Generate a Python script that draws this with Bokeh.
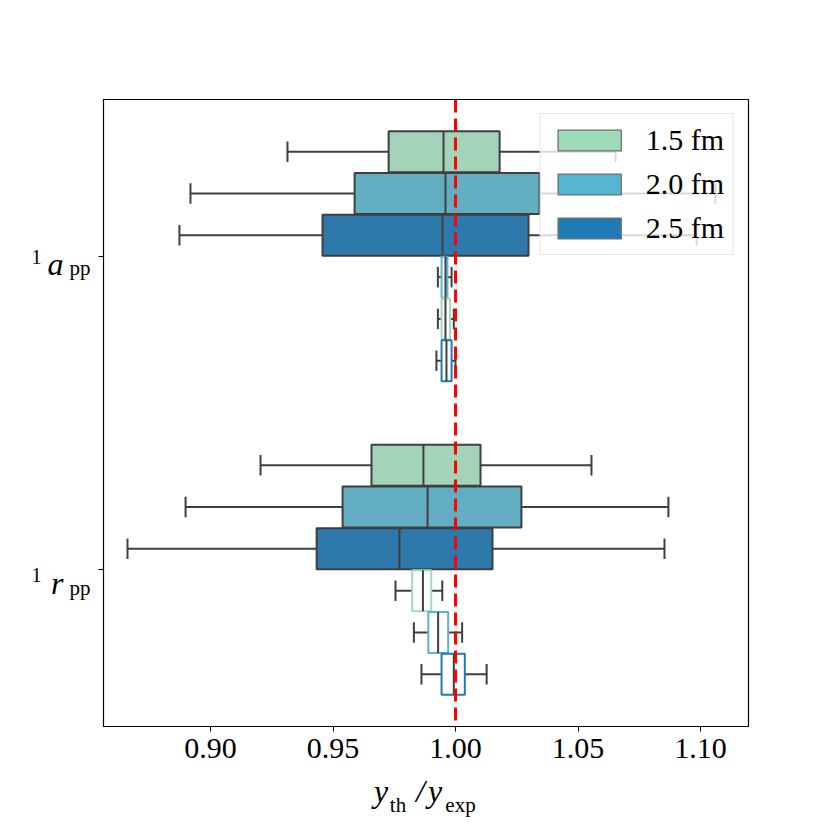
from bokeh.plotting import figure
from bokeh.models import (Range1d, Span, FixedTicker, NumeralTickFormatter,
                          ColumnDataSource, LinearAxis)
from bokeh.embed import file_html
from bokeh.resources import INLINE

categories = ["a_pp", "r_pp"]
cat_letters = ["a", "r"]
cat_sub = "pp"
cat_sup = "1"
hue_labels = ["1.5 fm", "2.0 fm", "2.5 fm"]
palette = ["#9fdab8", "#56b5d1", "#1f7bb6"]
fill_colors = ["#a3d3b9", "#64aec4", "#2e79ab"]
edge_color = "#3f3f3f"

# filled boxes (upper half of each category)
a_whislo = [[0.9314, 0.8918, 0.8873], [0.9204, 0.8898, 0.8661]]
a_q1 = [[0.9727, 0.9588, 0.9457], [0.9657, 0.9539, 0.9433]]
a_med = [[0.9951, 0.9959, 0.9947], [0.9869, 0.9886, 0.9771]]
a_q3 = [[1.0180, 1.0343, 1.0298], [1.0102, 1.0269, 1.0151]]
a_whishi = [[1.0653, 1.1061, 1.0984], [1.0555, 1.0869, 1.0853]]

# outline boxes (lower half of each category)
b_whislo = [[0.9928, 0.9928, 0.9922], [0.9755, 0.9830, 0.9861]]
b_q1 = [[0.9943, 0.9943, 0.9943], [0.9823, 0.9889, 0.9943]]
b_med = [[0.9959, 0.9959, 0.9963], [0.9867, 0.9929, 0.9993]]
b_q3 = [[0.9967, 0.9978, 0.9984], [0.9901, 0.9970, 1.0038]]
b_whishi = [[0.9984, 0.9993, 1.0000], [0.9946, 1.0027, 1.0127]]
b_color_idx = [[1, 0, 2], [0, 1, 2]]

x_ticks = [0.90, 0.95, 1.00, 1.05, 1.10]

FONT = "Liberation Serif"
X0, X1 = 0.8563, 1.1196
Y0, Y1 = 1.5, -0.5

p = figure(width=822, height=822, output_backend="svg", toolbar_location=None,
           x_range=Range1d(X0, X1), y_range=Range1d(Y0, Y1),
           min_border_left=103, min_border_right=74, min_border_top=99, min_border_bottom=96)
p.xgrid.visible = False
p.ygrid.visible = False
p.outline_line_color = "black"
p.outline_line_width = 1.2
p.background_fill_color = "white"
p.border_fill_color = "white"

slot = 0.8 / 6
box_h = slot * 0.98
cap_h = box_h / 2


def gather(whislo, q1, med, q3, whishi, slot_start, color_fn):
    d = dict(y=[], lo=[], q1=[], med=[], q3=[], hi=[], ylo=[], yhi=[], clo=[], chi=[], color=[], hue=[])
    for ci in range(len(categories)):
        for hi in range(len(hue_labels)):
            y = ci - 0.4 + (slot_start + hi + 0.5) * slot
            d["y"].append(y)
            d["lo"].append(whislo[ci][hi])
            d["q1"].append(q1[ci][hi])
            d["med"].append(med[ci][hi])
            d["q3"].append(q3[ci][hi])
            d["hi"].append(whishi[ci][hi])
            d["ylo"].append(y - box_h / 2)
            d["yhi"].append(y + box_h / 2)
            d["clo"].append(y - cap_h / 2)
            d["chi"].append(y + cap_h / 2)
            d["color"].append(color_fn(ci, hi))
            d["hue"].append(hi)
    return d


da = gather(a_whislo, a_q1, a_med, a_q3, a_whishi, 0, lambda ci, hi: fill_colors[hi])
db = gather(b_whislo, b_q1, b_med, b_q3, b_whishi, 3, lambda ci, hi: palette[b_color_idx[ci][hi]])
src_a = ColumnDataSource(da)
src_b = ColumnDataSource(db)

lw = 2
for src, filled in ((src_a, True), (src_b, False)):
    p.segment(x0="lo", y0="y", x1="q1", y1="y", source=src, line_color=edge_color, line_width=lw)
    p.segment(x0="q3", y0="y", x1="hi", y1="y", source=src, line_color=edge_color, line_width=lw)
    p.segment(x0="lo", y0="clo", x1="lo", y1="chi", source=src, line_color=edge_color, line_width=lw)
    p.segment(x0="hi", y0="clo", x1="hi", y1="chi", source=src, line_color=edge_color, line_width=lw)
    if filled:
        p.hbar(y="y", left="q1", right="q3", height=box_h, source=src,
               fill_color="color", line_color=edge_color, line_width=lw)
    else:
        p.hbar(y="y", left="q1", right="q3", height=box_h, source=src,
               fill_color=None, line_color="color", line_width=lw)
    p.segment(x0="med", y0="ylo", x1="med", y1="yhi", source=src, line_color=edge_color, line_width=lw)

# legend proxies (hidden renderers of the filled boxes, one per hue)
for i, labtxt in enumerate(hue_labels):
    idx = [k for k, h in enumerate(da["hue"]) if h == i]
    r = p.hbar(y=[da["y"][k] for k in idx], left=[da["q1"][k] for k in idx],
               right=[da["q3"][k] for k in idx], height=box_h,
               fill_color=palette[i], line_color="#6f6f6f", line_width=1.3,
               legend_label=labtxt)
    r.visible = False

p.add_layout(Span(location=1.0, dimension="height", line_color="red",
                  line_width=3, line_dash="13 6"))

# main axes
p.xaxis.ticker = FixedTicker(ticks=x_ticks)
p.xaxis.formatter = NumeralTickFormatter(format="0.00")
p.yaxis.ticker = FixedTicker(ticks=[0, 1])
p.yaxis.major_label_overrides = {0: "", 1: ""}
p.yaxis.major_label_standoff = 0
for ax in (p.xaxis, p.yaxis):
    ax.major_tick_out = 5
    ax.major_tick_in = 0
    ax.minor_tick_out = 0
    ax.minor_tick_in = 0
    ax.major_tick_line_color = "black"
    ax.axis_line_color = "black"
    ax.major_label_text_font = FONT
    ax.major_label_text_font_size = "30px"
    ax.major_label_text_color = "black"
p.xaxis.major_label_standoff = 7


def text_axis(side, ticks, labels, size, style, standoff):
    ax = LinearAxis(ticker=FixedTicker(ticks=ticks),
                    major_label_overrides={t: s for t, s in zip(ticks, labels)})
    ax.axis_line_color = None
    ax.major_tick_line_color = None
    ax.minor_tick_line_color = None
    ax.major_tick_out = 0
    ax.major_tick_in = 0
    ax.minor_tick_out = 0
    ax.minor_tick_in = 0
    ax.major_label_standoff = standoff
    ax.major_label_text_font = FONT
    ax.major_label_text_font_size = size
    ax.major_label_text_font_style = style
    ax.major_label_text_color = "black"
    p.add_layout(ax, side)
    return ax


# y category labels  ^1 a_pp / ^1 r_pp  (stacked label axes, outward from frame)
px = 1.0 / 313.5  # data units per pixel along y
text_axis("left", [0 + 11.5 * px, 1 + 18 * px], [cat_sub, cat_sub], "21px", "normal", 8)
text_axis("left", [0 + 7.5 * px, 1 + 13 * px], cat_letters, "32px", "italic", 3)
text_axis("left", [0 + 0.5 * px, 1 + 5 * px], [cat_sup, cat_sup], "20px", "normal", 3)

# x axis title  y_th / y_exp  (stacked label axes)
dx = 1.0 / 2450
xc = 1.0
text_axis("below", [xc + (380.5 - 455) * dx, xc + (420 - 455) * dx, xc + (434.5 - 455) * dx],
          ["y", "/", "y"], "32px", "italic", 12)
text_axis("below", [xc + (397.5 - 455) * dx, xc + (460 - 455) * dx],
          ["th", "exp"], "21px", "normal", -19)

lg = p.legend[0]
lg.location = "top_right"
lg.margin = 14
lg.padding = 9
lg.spacing = 10
lg.glyph_width = 79
lg.glyph_height = 26
lg.label_height = 30
lg.label_standoff = 17
lg.label_text_font = FONT
lg.label_text_font_size = "30px"
lg.label_text_color = "black"
lg.border_line_color = "#cccccc"
lg.border_line_width = 1.3
lg.background_fill_alpha = 0.8
lg.inactive_fill_alpha = 0

open("out.html", "w").write(file_html(p, INLINE))
